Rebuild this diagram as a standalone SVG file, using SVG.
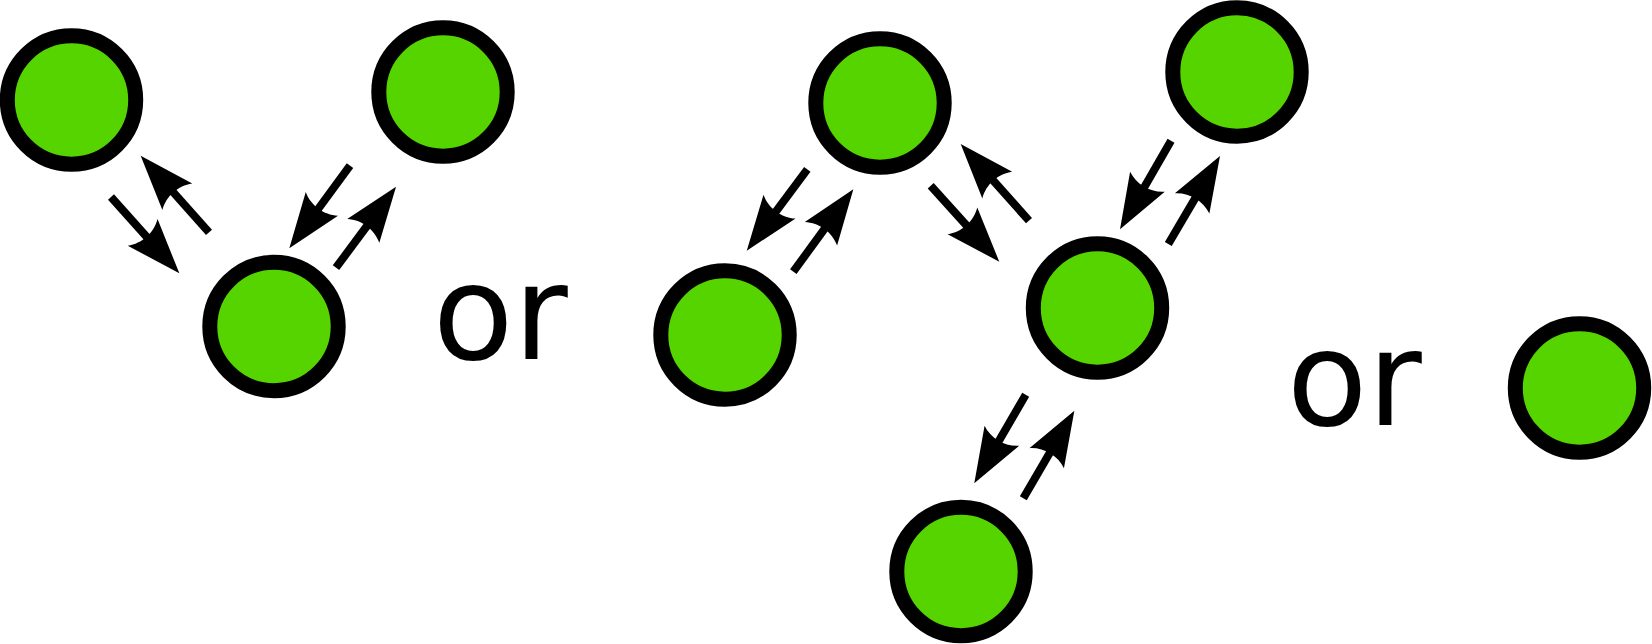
<svg xmlns="http://www.w3.org/2000/svg" width="1652" height="644" viewBox="0 0 1652 644">
<style>
.node circle{fill:#55d400;stroke:#000;stroke-width:15}
.conn path{fill:none;stroke:#000;stroke-width:8;marker-end:url(#ah)}
.lbl{font-family:"DejaVu Sans",sans-serif;font-size:132px;fill:#000}
</style>
<defs>
<marker id="ah" markerUnits="userSpaceOnUse" orient="auto" refX="0" refY="0" markerWidth="60" markerHeight="44" viewBox="-44 -22 60 44" overflow="visible">
<path d="M14,0 L-41,-20 C-33,-8 -33,8 -41,20 Z" fill="#000"/>
</marker>
</defs>
<rect width="1652" height="644" fill="#fff"/>
<g id="n1" class="node"><circle cx="71.5" cy="100" r="64.2"/></g>
<g id="n2" class="node"><circle cx="443" cy="92" r="64.2"/></g>
<g id="n3" class="node"><circle cx="274" cy="326.5" r="64.2"/></g>
<g id="n4" class="node"><circle cx="880" cy="103" r="64.2"/></g>
<g id="n5" class="node"><circle cx="1237" cy="72" r="64.2"/></g>
<g id="n6" class="node"><circle cx="725" cy="335" r="64.2"/></g>
<g id="n7" class="node"><circle cx="1097.5" cy="308" r="64.2"/></g>
<g id="n8" class="node"><circle cx="961" cy="571.5" r="64.2"/></g>
<g id="n9" class="node"><circle cx="1579.5" cy="388" r="64.2"/></g>
<g id="connectors" class="conn">
<path d="M111,197 L170,262.9"/>
<path d="M209,232.3 L150,166.2"/>
<path d="M350,165.7 L297.6,237"/>
<path d="M336,267.7 L387.7,198"/>
<path d="M807.3,169.3 L755.1,239.5"/>
<path d="M793.3,271.7 L845.1,200.6"/>
<path d="M930.7,185.7 L989.9,251.3"/>
<path d="M1029,220.7 L970,154.5"/>
<path d="M1171,140.7 L1127,217.2"/>
<path d="M1168.3,244 L1212.9,168.1"/>
<path d="M1025.7,394.7 L981.3,471.2"/>
<path d="M1023.3,498.3 L1067.3,422.8"/>
</g>
<text class="lbl" x="432.7" y="359">or</text>
<text class="lbl" x="1286.7" y="425">or</text>
</svg>
